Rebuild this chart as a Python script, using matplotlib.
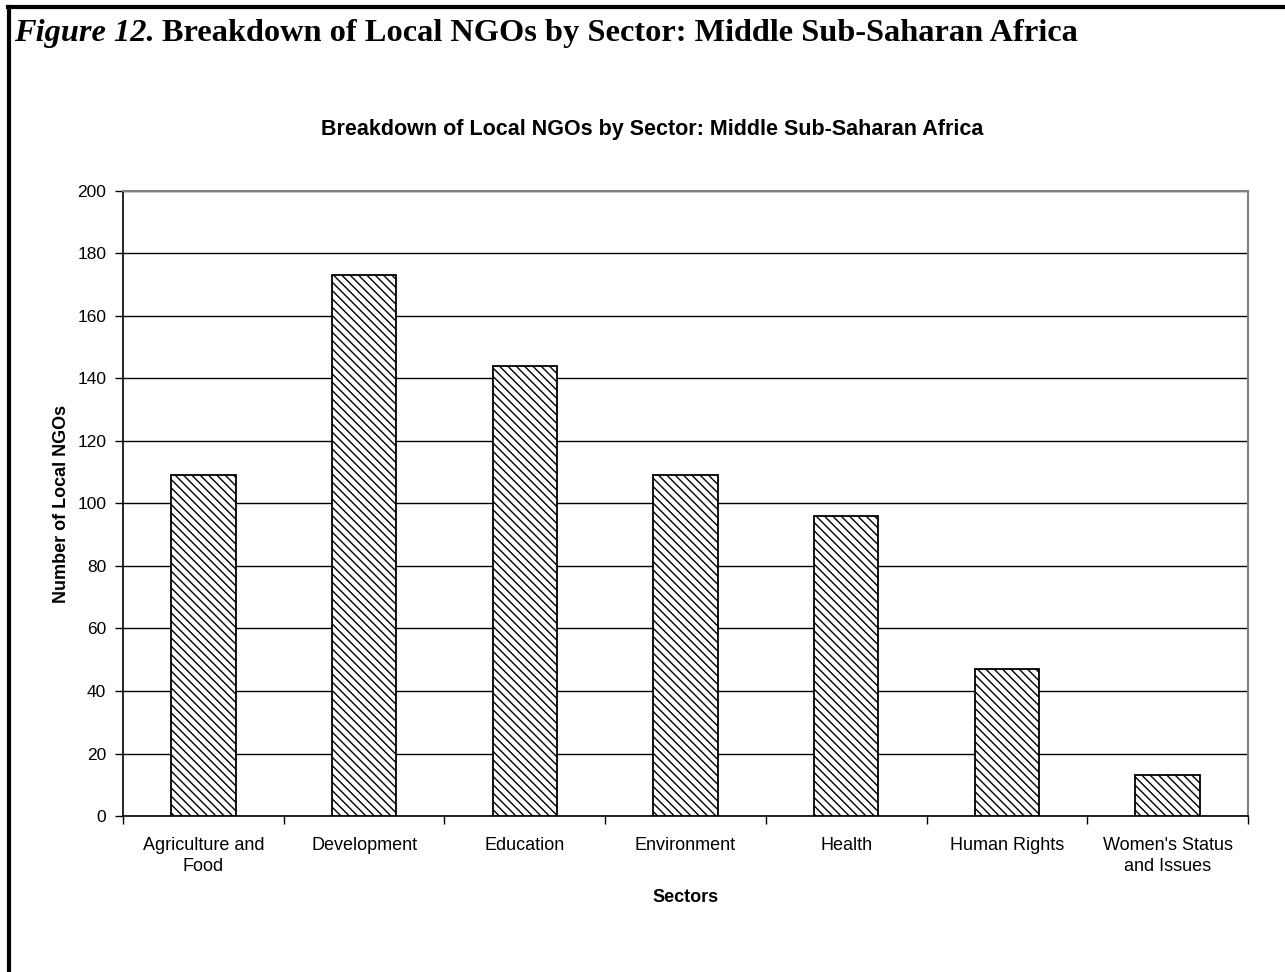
import matplotlib
matplotlib.use("Agg")
import matplotlib.pyplot as plt
from matplotlib.lines import Line2D

sectors = ["Agriculture and\nFood", "Development", "Education", "Environment",
           "Health", "Human Rights", "Women's Status\nand Issues"]
ngo_counts = [109, 173, 144, 109, 96, 47, 13]
y_ticks = [0, 20, 40, 60, 80, 100, 120, 140, 160, 180, 200]

W, H = 1285, 972
fig = plt.figure(figsize=(W / 100, H / 100), dpi=100)
fig.patch.set_facecolor("white")

plt.rcParams["hatch.linewidth"] = 1.0

# Outer frame (top and left rules)
fig.add_artist(Line2D([8 / W, 1], [1 - 7 / H, 1 - 7 / H], color="black", lw=3,
                      transform=fig.transFigure))
fig.add_artist(Line2D([9 / W, 9 / W], [0, 1 - 7 / H], color="black", lw=3,
                      transform=fig.transFigure))

# Figure caption: italic label followed by the bold title
cap_y = 1 - 34 / H
lbl = fig.text(14 / W, cap_y, "Figure 12.", fontsize=23.3, fontweight="bold",
               fontstyle="italic", family="Liberation Serif", va="center", ha="left")
fig.canvas.draw()
bb = lbl.get_window_extent()
fig.text((bb.x1 + 7) / W, cap_y, "Breakdown of Local NGOs by Sector: Middle Sub-Saharan Africa",
         fontsize=23.3, fontweight="bold", family="Liberation Serif", va="center", ha="left")

ax = fig.add_axes([123 / W, 1 - 816 / H, (1248 - 123) / W, (816 - 191) / H])

x = list(range(len(sectors)))
ax.bar(x, ngo_counts, width=0.4, color="white", edgecolor="black",
       linewidth=1.3, hatch="\\\\\\\\", zorder=3)

ax.set_xlim(-0.5, len(sectors) - 0.5)
ax.set_ylim(0, 200)
ax.set_yticks(y_ticks)
ax.set_yticklabels([str(v) for v in y_ticks], family="Liberation Sans", fontsize=12.5)
ax.yaxis.grid(True, color="black", lw=1.0, zorder=0)
ax.set_axisbelow(True)

ax.set_xticks(x)
ax.set_xticklabels(sectors, family="Liberation Sans", fontsize=13, linespacing=1.35)
ax.set_xticks([i + 0.5 for i in range(-1, len(sectors))], minor=True)
ax.tick_params(axis="x", which="major", length=0, pad=15)
ax.tick_params(axis="x", which="minor", length=6, width=1, direction="out")
ax.tick_params(axis="y", length=6, width=1, direction="out", pad=6)

for side in ("top", "right"):
    ax.spines[side].set_color("#808080")
    ax.spines[side].set_linewidth(1.5)
for side in ("left", "bottom"):
    ax.spines[side].set_color("black")
    ax.spines[side].set_linewidth(1.2)

ax.set_ylabel("Number of Local NGOs", fontsize=13, fontweight="bold",
              family="Liberation Sans", labelpad=5)
ax.set_xlabel("Sectors", fontsize=13, fontweight="bold", family="Liberation Sans",
              labelpad=10)

fig.text(652 / W, 1 - 130 / H, "Breakdown of Local NGOs by Sector: Middle Sub-Saharan Africa",
         fontsize=15.5, fontweight="bold", family="Liberation Sans", ha="center", va="center")

fig.savefig("out.png", dpi=100, facecolor="white")
